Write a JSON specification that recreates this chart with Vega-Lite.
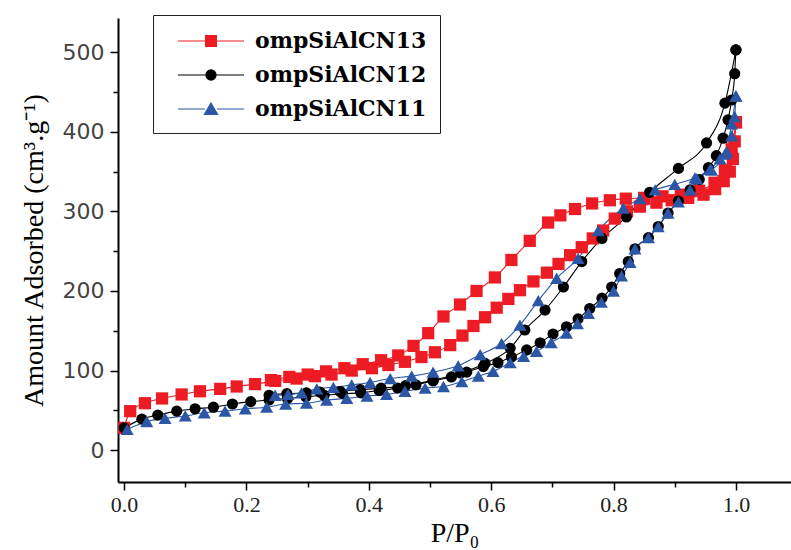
{
"$schema":"https://vega.github.io/schema/vega-lite/v6.json",
"width":673,"height":464,
"autosize":{"type":"none"},
"padding":{"left":118,"top":18,"right":0,"bottom":68},
"background":"white",
"datasets":{"iso":[
{"series":"ompSiAlCN13","branch":"ads","p":0,"v":28},{"series":"ompSiAlCN13","branch":"ads","p":0.01,"v":49},{"series":"ompSiAlCN13","branch":"ads","p":0.034,"v":59},{"series":"ompSiAlCN13","branch":"ads","p":0.062,"v":65},{"series":"ompSiAlCN13","branch":"ads","p":0.094,"v":70},{"series":"ompSiAlCN13","branch":"ads","p":0.124,"v":74},{"series":"ompSiAlCN13","branch":"ads","p":0.157,"v":77},{"series":"ompSiAlCN13","branch":"ads","p":0.184,"v":80},{"series":"ompSiAlCN13","branch":"ads","p":0.214,"v":83},{"series":"ompSiAlCN13","branch":"ads","p":0.247,"v":87},{"series":"ompSiAlCN13","branch":"ads","p":0.282,"v":90},{"series":"ompSiAlCN13","branch":"ads","p":0.312,"v":93},{"series":"ompSiAlCN13","branch":"ads","p":0.339,"v":95},{"series":"ompSiAlCN13","branch":"ads","p":0.372,"v":100},{"series":"ompSiAlCN13","branch":"ads","p":0.405,"v":103},{"series":"ompSiAlCN13","branch":"ads","p":0.432,"v":107},{"series":"ompSiAlCN13","branch":"ads","p":0.459,"v":111},{"series":"ompSiAlCN13","branch":"ads","p":0.486,"v":117},{"series":"ompSiAlCN13","branch":"ads","p":0.508,"v":123},{"series":"ompSiAlCN13","branch":"ads","p":0.533,"v":132},{"series":"ompSiAlCN13","branch":"ads","p":0.553,"v":144},{"series":"ompSiAlCN13","branch":"ads","p":0.571,"v":156},{"series":"ompSiAlCN13","branch":"ads","p":0.59,"v":167},{"series":"ompSiAlCN13","branch":"ads","p":0.609,"v":179},{"series":"ompSiAlCN13","branch":"ads","p":0.628,"v":190},{"series":"ompSiAlCN13","branch":"ads","p":0.647,"v":201},{"series":"ompSiAlCN13","branch":"ads","p":0.669,"v":212},{"series":"ompSiAlCN13","branch":"ads","p":0.691,"v":223},{"series":"ompSiAlCN13","branch":"ads","p":0.71,"v":234},{"series":"ompSiAlCN13","branch":"ads","p":0.729,"v":245},{"series":"ompSiAlCN13","branch":"ads","p":0.748,"v":255},{"series":"ompSiAlCN13","branch":"ads","p":0.766,"v":266},{"series":"ompSiAlCN13","branch":"ads","p":0.783,"v":276},{"series":"ompSiAlCN13","branch":"ads","p":0.802,"v":291},{"series":"ompSiAlCN13","branch":"ads","p":0.822,"v":300},{"series":"ompSiAlCN13","branch":"ads","p":0.843,"v":306},{"series":"ompSiAlCN13","branch":"ads","p":0.87,"v":311},{"series":"ompSiAlCN13","branch":"ads","p":0.895,"v":314},{"series":"ompSiAlCN13","branch":"ads","p":0.922,"v":317},{"series":"ompSiAlCN13","branch":"ads","p":0.947,"v":321},{"series":"ompSiAlCN13","branch":"ads","p":0.966,"v":328},{"series":"ompSiAlCN13","branch":"ads","p":0.98,"v":338},{"series":"ompSiAlCN13","branch":"ads","p":0.99,"v":350},{"series":"ompSiAlCN13","branch":"ads","p":0.995,"v":366},{"series":"ompSiAlCN13","branch":"ads","p":0.998,"v":388},{"series":"ompSiAlCN13","branch":"ads","p":1.0,"v":412},
{"series":"ompSiAlCN13","branch":"des","p":1.0,"v":412},{"series":"ompSiAlCN13","branch":"des","p":0.993,"v":378},{"series":"ompSiAlCN13","branch":"des","p":0.982,"v":352},{"series":"ompSiAlCN13","branch":"des","p":0.965,"v":336},{"series":"ompSiAlCN13","branch":"des","p":0.94,"v":326},{"series":"ompSiAlCN13","branch":"des","p":0.91,"v":321},{"series":"ompSiAlCN13","branch":"des","p":0.88,"v":319},{"series":"ompSiAlCN13","branch":"des","p":0.85,"v":317},{"series":"ompSiAlCN13","branch":"des","p":0.82,"v":316},{"series":"ompSiAlCN13","branch":"des","p":0.794,"v":314},{"series":"ompSiAlCN13","branch":"des","p":0.765,"v":310},{"series":"ompSiAlCN13","branch":"des","p":0.737,"v":303},{"series":"ompSiAlCN13","branch":"des","p":0.713,"v":295},{"series":"ompSiAlCN13","branch":"des","p":0.693,"v":286},{"series":"ompSiAlCN13","branch":"des","p":0.663,"v":263},{"series":"ompSiAlCN13","branch":"des","p":0.633,"v":239},{"series":"ompSiAlCN13","branch":"des","p":0.606,"v":217},{"series":"ompSiAlCN13","branch":"des","p":0.576,"v":200},{"series":"ompSiAlCN13","branch":"des","p":0.549,"v":183},{"series":"ompSiAlCN13","branch":"des","p":0.522,"v":168},{"series":"ompSiAlCN13","branch":"des","p":0.497,"v":147},{"series":"ompSiAlCN13","branch":"des","p":0.473,"v":131},{"series":"ompSiAlCN13","branch":"des","p":0.448,"v":119},{"series":"ompSiAlCN13","branch":"des","p":0.42,"v":113},{"series":"ompSiAlCN13","branch":"des","p":0.39,"v":108},{"series":"ompSiAlCN13","branch":"des","p":0.36,"v":103},{"series":"ompSiAlCN13","branch":"des","p":0.33,"v":99},{"series":"ompSiAlCN13","branch":"des","p":0.3,"v":95},{"series":"ompSiAlCN13","branch":"des","p":0.27,"v":92},{"series":"ompSiAlCN13","branch":"des","p":0.24,"v":88},
{"series":"ompSiAlCN12","branch":"ads","p":0,"v":28},{"series":"ompSiAlCN12","branch":"ads","p":0.029,"v":39},{"series":"ompSiAlCN12","branch":"ads","p":0.055,"v":44},{"series":"ompSiAlCN12","branch":"ads","p":0.086,"v":49},{"series":"ompSiAlCN12","branch":"ads","p":0.116,"v":52},{"series":"ompSiAlCN12","branch":"ads","p":0.146,"v":54},{"series":"ompSiAlCN12","branch":"ads","p":0.177,"v":58},{"series":"ompSiAlCN12","branch":"ads","p":0.207,"v":61},{"series":"ompSiAlCN12","branch":"ads","p":0.237,"v":63},{"series":"ompSiAlCN12","branch":"ads","p":0.267,"v":65},{"series":"ompSiAlCN12","branch":"ads","p":0.297,"v":67},{"series":"ompSiAlCN12","branch":"ads","p":0.327,"v":69},{"series":"ompSiAlCN12","branch":"ads","p":0.357,"v":71},{"series":"ompSiAlCN12","branch":"ads","p":0.387,"v":72},{"series":"ompSiAlCN12","branch":"ads","p":0.417,"v":75},{"series":"ompSiAlCN12","branch":"ads","p":0.447,"v":78},{"series":"ompSiAlCN12","branch":"ads","p":0.477,"v":82},{"series":"ompSiAlCN12","branch":"ads","p":0.505,"v":87},{"series":"ompSiAlCN12","branch":"ads","p":0.535,"v":92},{"series":"ompSiAlCN12","branch":"ads","p":0.56,"v":98},{"series":"ompSiAlCN12","branch":"ads","p":0.587,"v":105},{"series":"ompSiAlCN12","branch":"ads","p":0.611,"v":110},{"series":"ompSiAlCN12","branch":"ads","p":0.633,"v":117},{"series":"ompSiAlCN12","branch":"ads","p":0.658,"v":126},{"series":"ompSiAlCN12","branch":"ads","p":0.68,"v":135},{"series":"ompSiAlCN12","branch":"ads","p":0.701,"v":146},{"series":"ompSiAlCN12","branch":"ads","p":0.723,"v":155},{"series":"ompSiAlCN12","branch":"ads","p":0.742,"v":165},{"series":"ompSiAlCN12","branch":"ads","p":0.761,"v":178},{"series":"ompSiAlCN12","branch":"ads","p":0.781,"v":191},{"series":"ompSiAlCN12","branch":"ads","p":0.797,"v":205},{"series":"ompSiAlCN12","branch":"ads","p":0.81,"v":222},{"series":"ompSiAlCN12","branch":"ads","p":0.824,"v":237},{"series":"ompSiAlCN12","branch":"ads","p":0.835,"v":253},{"series":"ompSiAlCN12","branch":"ads","p":0.857,"v":267},{"series":"ompSiAlCN12","branch":"ads","p":0.873,"v":281},{"series":"ompSiAlCN12","branch":"ads","p":0.889,"v":298},{"series":"ompSiAlCN12","branch":"ads","p":0.906,"v":313},{"series":"ompSiAlCN12","branch":"ads","p":0.925,"v":327},{"series":"ompSiAlCN12","branch":"ads","p":0.94,"v":340},{"series":"ompSiAlCN12","branch":"ads","p":0.955,"v":355},{"series":"ompSiAlCN12","branch":"ads","p":0.968,"v":370},{"series":"ompSiAlCN12","branch":"ads","p":0.979,"v":392},{"series":"ompSiAlCN12","branch":"ads","p":0.987,"v":415},{"series":"ompSiAlCN12","branch":"ads","p":0.993,"v":440},{"series":"ompSiAlCN12","branch":"ads","p":0.998,"v":473},{"series":"ompSiAlCN12","branch":"ads","p":1.0,"v":503},
{"series":"ompSiAlCN12","branch":"des","p":1.0,"v":503},{"series":"ompSiAlCN12","branch":"des","p":0.982,"v":436},{"series":"ompSiAlCN12","branch":"des","p":0.952,"v":386},{"series":"ompSiAlCN12","branch":"des","p":0.906,"v":354},{"series":"ompSiAlCN12","branch":"des","p":0.859,"v":324},{"series":"ompSiAlCN12","branch":"des","p":0.821,"v":293},{"series":"ompSiAlCN12","branch":"des","p":0.781,"v":266},{"series":"ompSiAlCN12","branch":"des","p":0.748,"v":237},{"series":"ompSiAlCN12","branch":"des","p":0.718,"v":205},{"series":"ompSiAlCN12","branch":"des","p":0.688,"v":176},{"series":"ompSiAlCN12","branch":"des","p":0.655,"v":151},{"series":"ompSiAlCN12","branch":"des","p":0.631,"v":128},{"series":"ompSiAlCN12","branch":"des","p":0.59,"v":109},{"series":"ompSiAlCN12","branch":"des","p":0.55,"v":97},{"series":"ompSiAlCN12","branch":"des","p":0.505,"v":88},{"series":"ompSiAlCN12","branch":"des","p":0.46,"v":81},{"series":"ompSiAlCN12","branch":"des","p":0.42,"v":78},{"series":"ompSiAlCN12","branch":"des","p":0.386,"v":76},{"series":"ompSiAlCN12","branch":"des","p":0.353,"v":74},{"series":"ompSiAlCN12","branch":"des","p":0.32,"v":73},{"series":"ompSiAlCN12","branch":"des","p":0.298,"v":72},{"series":"ompSiAlCN12","branch":"des","p":0.266,"v":71},{"series":"ompSiAlCN12","branch":"des","p":0.237,"v":69},
{"series":"ompSiAlCN11","branch":"ads","p":0.005,"v":26},{"series":"ompSiAlCN11","branch":"ads","p":0.037,"v":36},{"series":"ompSiAlCN11","branch":"ads","p":0.067,"v":40},{"series":"ompSiAlCN11","branch":"ads","p":0.1,"v":43},{"series":"ompSiAlCN11","branch":"ads","p":0.131,"v":47},{"series":"ompSiAlCN11","branch":"ads","p":0.165,"v":49},{"series":"ompSiAlCN11","branch":"ads","p":0.198,"v":52},{"series":"ompSiAlCN11","branch":"ads","p":0.233,"v":54},{"series":"ompSiAlCN11","branch":"ads","p":0.264,"v":58},{"series":"ompSiAlCN11","branch":"ads","p":0.298,"v":59},{"series":"ompSiAlCN11","branch":"ads","p":0.331,"v":63},{"series":"ompSiAlCN11","branch":"ads","p":0.364,"v":65},{"series":"ompSiAlCN11","branch":"ads","p":0.397,"v":68},{"series":"ompSiAlCN11","branch":"ads","p":0.429,"v":70},{"series":"ompSiAlCN11","branch":"ads","p":0.459,"v":74},{"series":"ompSiAlCN11","branch":"ads","p":0.492,"v":78},{"series":"ompSiAlCN11","branch":"ads","p":0.522,"v":80},{"series":"ompSiAlCN11","branch":"ads","p":0.552,"v":86},{"series":"ompSiAlCN11","branch":"ads","p":0.579,"v":93},{"series":"ompSiAlCN11","branch":"ads","p":0.603,"v":99},{"series":"ompSiAlCN11","branch":"ads","p":0.631,"v":110},{"series":"ompSiAlCN11","branch":"ads","p":0.653,"v":118},{"series":"ompSiAlCN11","branch":"ads","p":0.674,"v":124},{"series":"ompSiAlCN11","branch":"ads","p":0.698,"v":135},{"series":"ompSiAlCN11","branch":"ads","p":0.723,"v":147},{"series":"ompSiAlCN11","branch":"ads","p":0.741,"v":159},{"series":"ompSiAlCN11","branch":"ads","p":0.759,"v":172},{"series":"ompSiAlCN11","branch":"ads","p":0.78,"v":186},{"series":"ompSiAlCN11","branch":"ads","p":0.8,"v":200},{"series":"ompSiAlCN11","branch":"ads","p":0.813,"v":219},{"series":"ompSiAlCN11","branch":"ads","p":0.827,"v":236},{"series":"ompSiAlCN11","branch":"ads","p":0.835,"v":253},{"series":"ompSiAlCN11","branch":"ads","p":0.857,"v":267},{"series":"ompSiAlCN11","branch":"ads","p":0.873,"v":281},{"series":"ompSiAlCN11","branch":"ads","p":0.889,"v":298},{"series":"ompSiAlCN11","branch":"ads","p":0.906,"v":312},{"series":"ompSiAlCN11","branch":"ads","p":0.925,"v":327},{"series":"ompSiAlCN11","branch":"ads","p":0.936,"v":341},{"series":"ompSiAlCN11","branch":"ads","p":0.958,"v":353},{"series":"ompSiAlCN11","branch":"ads","p":0.974,"v":366},{"series":"ompSiAlCN11","branch":"ads","p":0.985,"v":375},{"series":"ompSiAlCN11","branch":"ads","p":0.993,"v":395},{"series":"ompSiAlCN11","branch":"ads","p":0.998,"v":419},{"series":"ompSiAlCN11","branch":"ads","p":1.0,"v":445},
{"series":"ompSiAlCN11","branch":"des","p":1.0,"v":445},{"series":"ompSiAlCN11","branch":"des","p":0.993,"v":410},{"series":"ompSiAlCN11","branch":"des","p":0.982,"v":372},{"series":"ompSiAlCN11","branch":"des","p":0.96,"v":352},{"series":"ompSiAlCN11","branch":"des","p":0.933,"v":342},{"series":"ompSiAlCN11","branch":"des","p":0.9,"v":334},{"series":"ompSiAlCN11","branch":"des","p":0.868,"v":327},{"series":"ompSiAlCN11","branch":"des","p":0.843,"v":316},{"series":"ompSiAlCN11","branch":"des","p":0.816,"v":304},{"series":"ompSiAlCN11","branch":"des","p":0.775,"v":276},{"series":"ompSiAlCN11","branch":"des","p":0.742,"v":241},{"series":"ompSiAlCN11","branch":"des","p":0.707,"v":216},{"series":"ompSiAlCN11","branch":"des","p":0.677,"v":188},{"series":"ompSiAlCN11","branch":"des","p":0.647,"v":157},{"series":"ompSiAlCN11","branch":"des","p":0.617,"v":134},{"series":"ompSiAlCN11","branch":"des","p":0.582,"v":120},{"series":"ompSiAlCN11","branch":"des","p":0.546,"v":106},{"series":"ompSiAlCN11","branch":"des","p":0.505,"v":98},{"series":"ompSiAlCN11","branch":"des","p":0.47,"v":93},{"series":"ompSiAlCN11","branch":"des","p":0.435,"v":90},{"series":"ompSiAlCN11","branch":"des","p":0.402,"v":85},{"series":"ompSiAlCN11","branch":"des","p":0.372,"v":82},{"series":"ompSiAlCN11","branch":"des","p":0.342,"v":79},{"series":"ompSiAlCN11","branch":"des","p":0.315,"v":77},{"series":"ompSiAlCN11","branch":"des","p":0.29,"v":72},{"series":"ompSiAlCN11","branch":"des","p":0.268,"v":70},{"series":"ompSiAlCN11","branch":"des","p":0.247,"v":69}
]},
"data":{"name":"iso"},
"encoding":{
 "x":{"field":"p","type":"quantitative","scale":{"domain":[-0.01,1.09],"nice":false,"zero":false},
  "axis":{"title":"P/P₀","values":[0,0.1,0.2,0.3,0.4,0.5,0.6,0.7,0.8,0.9,1.0],
   "labelExpr":"round(datum.value*10) % 2 == 0 ? format(datum.value, '.1f') : ''",
   "tickSize":{"condition":{"test":"round(datum.value*10) % 2 == 0","value":8},"value":5},
   "labelFont":"Liberation Serif","labelFontSize":22,"labelColor":"#222","labelPadding":4,
   "titleFont":"Liberation Serif","titleFontSize":28,"titleFontWeight":"normal","titleColor":"#000","titlePadding":4,"labelFlush":false,"labelOverlap":false}},
 "y":{"field":"v","type":"quantitative","scale":{"domain":[-40,543],"nice":false,"zero":false},
  "axis":{"title":"Amount Adsorbed (cm³.g⁻¹)","values":[0,50,100,150,200,250,300,350,400,450,500],
   "labelExpr":"datum.value % 100 == 0 ? datum.label : ''",
   "tickSize":{"condition":{"test":"datum.value % 100 == 0","value":8},"value":5},
   "labelFont":"DejaVu Sans","labelFontSize":22,"labelColor":"#444","labelPadding":6,
   "titleFont":"Liberation Serif","titleFontSize":28,"titleFontWeight":"normal","titleColor":"#000","titlePadding":14,"labelOverlap":false}}
},
"layer":[
 {"transform":[{"filter":"datum.series === 'ompSiAlCN13'"}],
  "mark":{"type":"line","interpolate":"monotone","strokeWidth":1.1,"color":"#ED1C24"},
  "encoding":{"detail":{"field":"branch"},"order":{"field":"v","type":"quantitative"}}},
 {"transform":[{"filter":"datum.series === 'ompSiAlCN12'"}],
  "mark":{"type":"line","interpolate":"monotone","strokeWidth":1.1,"color":"#000000"},
  "encoding":{"detail":{"field":"branch"},"order":{"field":"v","type":"quantitative"}}},
 {"transform":[{"filter":"datum.series === 'ompSiAlCN11'"}],
  "mark":{"type":"line","interpolate":"monotone","strokeWidth":1.1,"color":"#2B57A6"},
  "encoding":{"detail":{"field":"branch"},"order":{"field":"v","type":"quantitative"}}},
 {"transform":[{"filter":"datum.series === 'ompSiAlCN13'"}],
  "mark":{"type":"point","shape":"square","filled":true,"color":"#ED1C24","size":150,"opacity":1},"encoding":{}},
 {"transform":[{"filter":"datum.series === 'ompSiAlCN12'"}],
  "mark":{"type":"point","shape":"circle","filled":true,"color":"#000000","size":125,"opacity":1},"encoding":{}},
 {"transform":[{"filter":"datum.series === 'ompSiAlCN11'"}],
  "mark":{"type":"point","shape":"triangle-up","filled":true,"color":"#2B57A6","size":170,"opacity":1},"encoding":{}},
 {"transform":[{"filter":"datum.v < -1000"}],
  "mark":{"type":"point","filled":true,"opacity":1},
  "encoding":{
   "fill":{"field":"series","type":"nominal","scale":{"domain":["ompSiAlCN13","ompSiAlCN12","ompSiAlCN11"],"range":["#ED1C24","#000000","#2B57A6"]},"title":null},
   "stroke":{"field":"series","type":"nominal","scale":{"domain":["ompSiAlCN13","ompSiAlCN12","ompSiAlCN11"],"range":["#ED1C24","#000000","#2B57A6"]},"title":null},
   "shape":{"field":"series","type":"nominal","scale":{"domain":["ompSiAlCN13","ompSiAlCN12","ompSiAlCN11"],"range":["M-2.75,0H-0.45M0.45,0H2.75M-0.45,-0.45H0.45V0.45H-0.45Z","M-2.75,0H-0.42M0.42,0H2.75M-0.42,0A0.42,0.42,0,1,0,0.42,0A0.42,0.42,0,1,0,-0.42,0Z","M-2.75,0H-0.5M0.5,0H2.75M0,-0.5L0.55,0.45H-0.55Z"]},"title":null}
  }}
],
"config":{
 "view":{"stroke":null},
 "axis":{"domainColor":"#000","domainWidth":2,"tickColor":"#000","tickWidth":1.5,"grid":false},
 "legend":{"orient":"none","legendX":35,"legendY":-3,"title":null,"symbolSize":576,"symbolStrokeWidth":1.2,
  "labelFont":"DejaVu Serif","labelFontWeight":"bold","labelFontSize":22,"labelColor":"#000","labelLimit":400,
  "strokeColor":"#222","fillColor":"#fff","padding":13,"rowPadding":10,"symbolOffset":32,"labelOffset":31}
}
}
